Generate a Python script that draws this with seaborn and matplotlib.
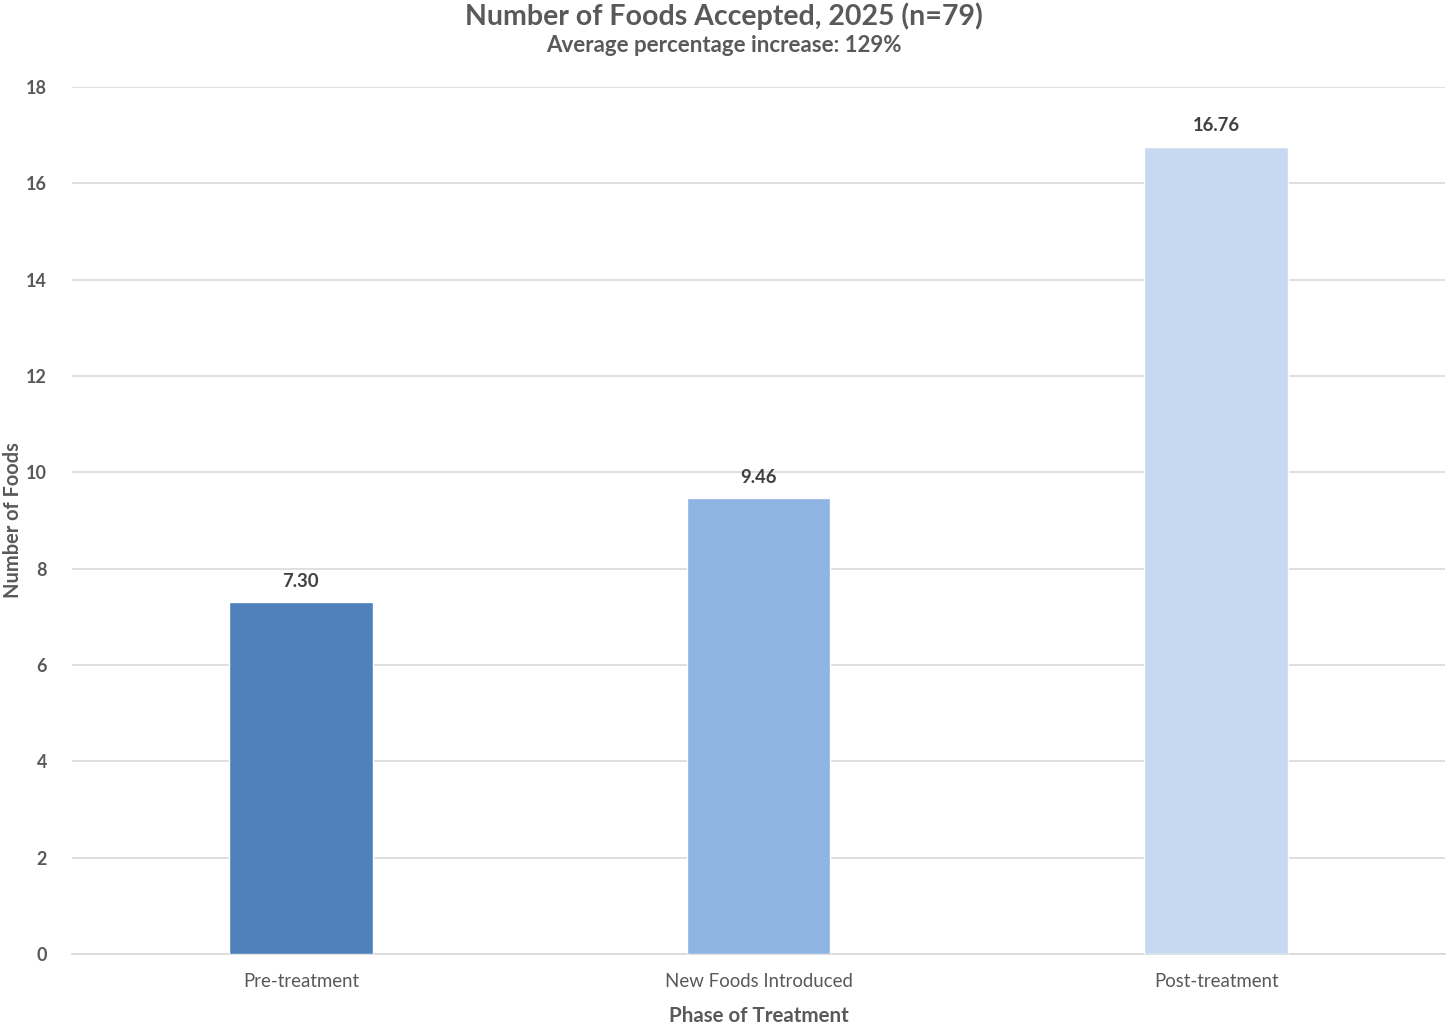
import matplotlib
matplotlib.use("Agg")
import matplotlib.pyplot as plt
import seaborn as sns
import pandas as pd

phases = ["Pre-treatment", "New Foods Introduced", "Post-treatment"]
foods = [7.30, 9.46, 16.76]
bar_colors = ["#4F81BD", "#8EB4E3", "#C6D9F1"]
y_ticks = [0, 2, 4, 6, 8, 10, 12, 14, 16, 18]

df = pd.DataFrame({"Phase": phases, "Foods": foods})

sns.set_theme(style="white")
plt.rcParams["font.family"] = ["Lato", "DejaVu Sans"]
text_color = "#595959"

fig = plt.figure(figsize=(14.47, 10.28), dpi=100)
ax = fig.add_axes([0.0498, 0.072, 0.9488, 0.8434])

sns.barplot(data=df, x="Phase", y="Foods", hue="Phase", palette=bar_colors,
            width=0.314, legend=False, ax=ax, zorder=3, saturation=1)

# value labels above bars
for i, v in enumerate(foods):
    ax.annotate(f"{v:.2f}", (i, v), xytext=(0, 9), textcoords="offset points",
                ha="center", va="bottom", fontsize=13.3, fontweight="bold",
                color="#404040")

ax.set_ylim(0, 18)
ax.set_xlim(-0.5, 2.5)
ax.set_yticks(y_ticks)
ax.yaxis.grid(True, color="#D9D9D9", linewidth=1.2, zorder=0)
ax.set_axisbelow(True)
for s in ["top", "right", "left"]:
    ax.spines[s].set_visible(False)
ax.spines["bottom"].set_color("#D9D9D9")
ax.spines["bottom"].set_linewidth(1.2)

ax.tick_params(axis="y", labelsize=13, colors=text_color, length=0, pad=18)
ax.tick_params(axis="x", labelsize=13.4, colors=text_color, length=0, pad=14)
for lbl in ax.get_yticklabels():
    lbl.set_fontweight("bold")

ax.set_xlabel("Phase of Treatment", fontsize=14.8, fontweight="bold",
              color=text_color, labelpad=11)
ax.set_ylabel("Number of Foods", fontsize=14.4, fontweight="bold",
              color=text_color)
ax.yaxis.set_label_coords(-0.0355, 0.5)

fig.text(0.5, 0.998, "Number of Foods Accepted, 2025 (n=79)", ha="center",
         va="top", fontsize=20.5, fontweight="bold", color=text_color)
fig.text(0.5, 0.966, "Average percentage increase: 129%", ha="center",
         va="top", fontsize=16, fontweight="bold", color=text_color)

fig.savefig("out.png", dpi=100, facecolor="white")
